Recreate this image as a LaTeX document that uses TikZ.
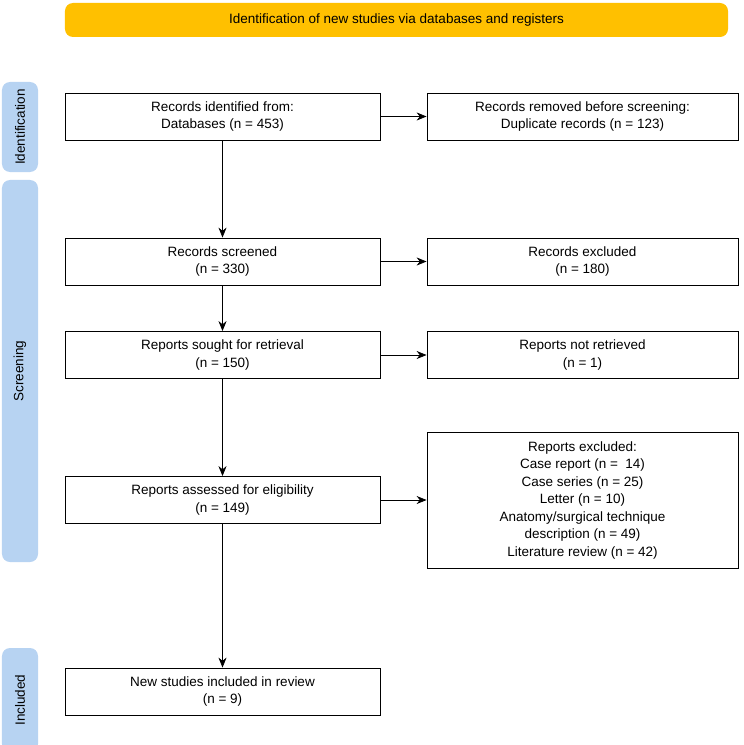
\documentclass[tikz,border=0pt]{standalone}
\usepackage{fontspec}
\setmainfont{Liberation Sans}
\usetikzlibrary{arrows.meta,shapes,positioning}
\definecolor{bannerorange}{HTML}{FFC000}
\definecolor{sideblue}{HTML}{B7D3F2}
\tikzset{
  box/.style={draw,line width=0.8pt,minimum width=315bp,minimum height=47bp,align=center,font=\fontsize{13.5bp}{17.5bp}\selectfont,inner sep=2pt},
  rbox/.style={box,minimum width=311bp},
  side/.style={fill=sideblue,rounded corners=8bp,rotate=90,font=\fontsize{13.5bp}{15.5bp}\selectfont},
  flow/.style={-{Stealth[length=10bp,width=8bp]},line width=0.8pt}
}
\begin{document}
\begin{tikzpicture}[x=1bp,y=-1bp]
\useasboundingbox (0,0) rectangle (744,745);
\node (banner) at (396.5,20)[fill=bannerorange,rounded corners=8bp,minimum width=663bp,minimum height=34bp,font=\fontsize{13.5bp}{15.5bp}\selectfont] {Identification of new studies via databases and registers};
\node (sideI) at (20,127)[side,minimum width=90bp,minimum height=36bp] {Identification};
\node (sideS) at (20,371)[side,minimum width=382bp,minimum height=36bp] {Screening};
\node (sideN) at (20,700)[side,minimum width=104bp,minimum height=36bp] {Included};
\node (ident) at (222.5,116.5)[box] {Records identified from:\\Databases (n = 453)};
\node (removed) at (582.5,116.5)[rbox] {Records removed before screening:\\Duplicate records (n = 123)};
\node (screen) at (222.5,261.5)[box] {Records screened\\(n = 330)};
\node (excl) at (582.5,261.5)[rbox] {Records excluded\\(n = 180)};
\node (sought) at (222.5,355)[box] {Reports sought for retrieval\\(n = 150)};
\node (notret) at (582.5,355)[rbox] {Reports not retrieved\\(n = 1)};
\node (assess) at (222.5,500)[box] {Reports assessed for eligibility\\(n = 149)};
\node (repexcl) at (582.5,500)[rbox,minimum height=136bp] {Reports excluded:\\Case report (n =\ \ 14)\\Case series (n = 25)\\Letter (n = 10)\\Anatomy/surgical technique\\description (n = 49)\\Literature review (n = 42)};
\node (incl) at (222.5,691.5)[box] {New studies included in review\\(n = 9)};
\draw [flow] (ident) -- (removed);
\draw [flow] (ident) -- (screen);
\draw [flow] (screen) -- (excl);
\draw [flow] (screen) -- (sought);
\draw [flow] (sought) -- (notret);
\draw [flow] (sought) -- (assess);
\draw [flow] (assess) -- (repexcl);
\draw [flow] (assess) -- (incl);
\end{tikzpicture}
\end{document}
